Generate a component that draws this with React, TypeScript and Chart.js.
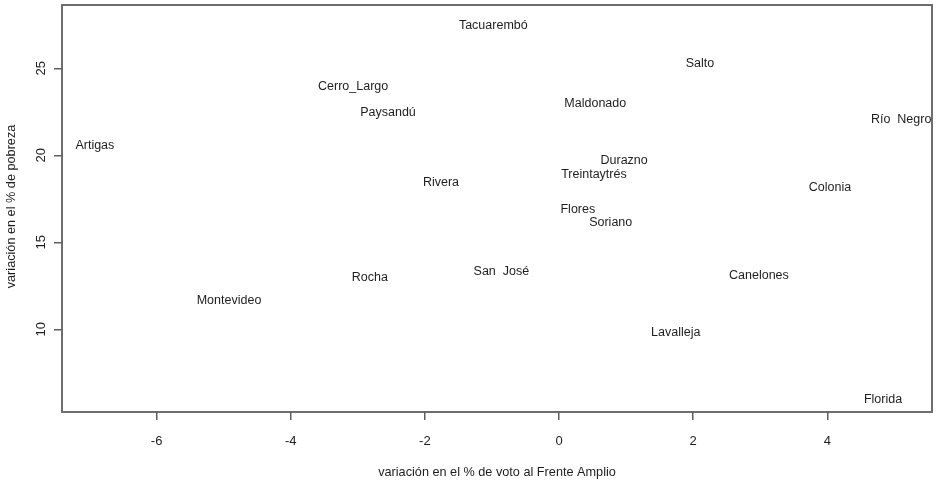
import React, { useEffect, useRef } from "react";
import { Chart, registerables } from "chart.js";

Chart.register(...registerables);

const departments = [
  "Tacuarembó", "Salto", "Cerro_Largo", "Paysandú", "Maldonado", "Río  Negro",
  "Artigas", "Durazno", "Treintaytrés", "Rivera", "Colonia", "Flores",
  "Soriano", "Rocha", "San  José", "Montevideo", "Canelones", "Lavalleja", "Florida",
];
const voteChange = [
  -0.98, 2.10, -3.07, -2.55, 0.54, 5.10,
  -6.92, 0.97, 0.52, -1.76, 4.04, 0.28,
  0.77, -2.82, -0.86, -4.92, 2.98, 1.74, 4.83,
];
const povertyChange = [
  27.45, 25.30, 23.98, 22.45, 22.99, 22.03,
  20.59, 19.70, 18.87, 18.43, 18.16, 16.91,
  16.13, 12.97, 13.31, 11.68, 13.12, 9.80, 5.98,
];
const xTicks = [-6, -4, -2, 0, 2, 4];
const yTicks = [10, 15, 20, 25];
const xRange = [-7.41, 5.56];
const yRange = [5.25, 28.64];
const xTitle = "variación en el % de voto al Frente Amplio";
const yTitle = "variación en el % de pobreza";

const FONT = '"Liberation Sans", Arial, sans-serif';
const TEXT = "#1e1e1e";
const AXIS = "#5f5f5f";

const labelPlugin = {
  id: "rstyle",
  afterDraw(chart: any) {
    const ctx = chart.ctx;
    const area = chart.chartArea;
    const xs = chart.scales.x;
    const ys = chart.scales.y;
    ctx.save();
    // box
    ctx.strokeStyle = AXIS;
    ctx.lineWidth = 1.8;
    ctx.strokeRect(area.left, area.top, area.right - area.left, area.bottom - area.top);
    // point labels
    const meta = chart.getDatasetMeta(0);
    ctx.fillStyle = TEXT;
    ctx.font = `12.5px ${FONT}`;
    ctx.textAlign = "center";
    ctx.textBaseline = "middle";
    meta.data.forEach((pt: any, i: number) => {
      ctx.fillText(departments[i], pt.x, pt.y);
    });
    // x tick labels
    ctx.font = `13px ${FONT}`;
    xTicks.forEach((v) => {
      ctx.fillText(String(v), xs.getPixelForValue(v), area.bottom + 29);
    });
    // y tick labels (rotated)
    yTicks.forEach((v) => {
      ctx.save();
      ctx.translate(area.left - 21, ys.getPixelForValue(v));
      ctx.rotate(-Math.PI / 2);
      ctx.fillText(String(v), 0, 0);
      ctx.restore();
    });
    // titles
    ctx.font = `12.7px ${FONT}`;
    ctx.fillText(xTitle, (area.left + area.right) / 2, area.bottom + 60);
    ctx.save();
    ctx.translate(11, (area.top + area.bottom) / 2 - 2);
    ctx.rotate(-Math.PI / 2);
    ctx.fillText(yTitle, 0, 0);
    ctx.restore();
    ctx.restore();
  },
};

export default function App() {
  const ref = useRef<HTMLCanvasElement>(null);
  useEffect(() => {
    if (!ref.current) return;
    const chart = new Chart(ref.current, {
      type: "scatter",
      data: {
        datasets: [
          {
            data: departments.map((_, i) => ({ x: voteChange[i], y: povertyChange[i] })),
            pointRadius: 0,
            pointHoverRadius: 0,
          },
        ],
      },
      options: {
        responsive: false,
        animation: false,
        events: [],
        layout: { padding: { top: 5, right: 4, left: 0, bottom: 0 } },
        plugins: { legend: { display: false }, tooltip: { enabled: false } },
        scales: {
          x: {
            type: "linear",
            min: xRange[0],
            max: xRange[1],
            afterBuildTicks: (s: any) => { s.ticks = xTicks.map((v) => ({ value: v })); },
            afterFit: (s: any) => { s.height = 70; },
            border: { display: false },
            grid: { drawOnChartArea: false, drawTicks: true, tickLength: 8, color: AXIS, lineWidth: 1.5 },
            ticks: { display: false },
          },
          y: {
            type: "linear",
            min: yRange[0],
            max: yRange[1],
            afterBuildTicks: (s: any) => { s.ticks = yTicks.map((v) => ({ value: v })); },
            afterFit: (s: any) => { s.width = 62; },
            border: { display: false },
            grid: { drawOnChartArea: false, drawTicks: true, tickLength: 8, color: AXIS, lineWidth: 1.5 },
            ticks: { display: false },
          },
        },
      },
      plugins: [labelPlugin],
    });
    return () => chart.destroy();
  }, []);
  return (
    <div style={{ position: "fixed", left: 0, top: 0, width: 936, height: 482, background: "#fff" }}>
      <canvas ref={ref} width={936} height={482} />
    </div>
  );
}
